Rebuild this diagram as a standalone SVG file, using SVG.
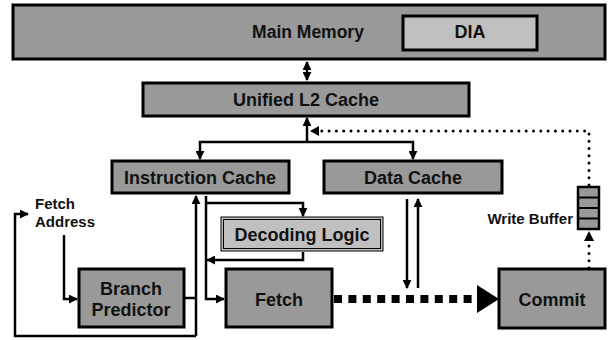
<svg xmlns="http://www.w3.org/2000/svg" width="615" height="340" viewBox="0 0 615 340">
<style>
.box{fill:#999999;stroke:#000;stroke-width:3}
.lbox{fill:#c0c0c0;stroke:#000;stroke-width:3}
.t{font-family:"Liberation Sans",Arial,Helvetica,sans-serif;font-weight:bold;font-size:18px;fill:#111;text-anchor:middle}
.s{font-family:"Liberation Sans",Arial,Helvetica,sans-serif;font-weight:bold;font-size:15px;fill:#111}
.ln{fill:none;stroke:#000;stroke-width:2.5}
.dot{fill:none;stroke:#000;stroke-width:3;stroke-linecap:round;stroke-dasharray:0 7.3}
</style>
<defs>
<marker id="ah" viewBox="0 0 10 10" refX="9" refY="5" markerWidth="9" markerHeight="9" markerUnits="userSpaceOnUse" orient="auto-start-reverse">
<path d="M0,0 L10,5 L0,10 z" fill="#000"/>
</marker>
</defs>
<rect width="615" height="340" fill="#fff"/>
<g id="main-memory">
<rect class="box" x="13" y="5" width="592" height="54"/>
<text class="t" x="308" y="38" style="font-size:17.5px">Main Memory</text>
</g>
<g id="dia">
<rect class="lbox" x="403" y="16" width="134" height="34"/>
<text class="t" x="470" y="38">DIA</text>
</g>
<g id="l2">
<rect class="box" x="143" y="83" width="326" height="33"/>
<text class="t" x="306" y="106">Unified L2 Cache</text>
</g>
<g id="icache">
<rect class="box" x="112" y="161" width="177" height="32"/>
<text class="t" x="200" y="184">Instruction Cache</text>
</g>
<g id="dcache">
<rect class="box" x="324" y="161" width="178" height="32"/>
<text class="t" x="413" y="184">Data Cache</text>
</g>
<g id="decoding">
<rect x="221" y="217" width="162" height="34" fill="#c0c0c0" stroke="#000" stroke-width="1"/>
<rect x="223.5" y="219.5" width="157" height="29" fill="#c0c0c0" stroke="#000" stroke-width="1"/>
<text class="t" x="302" y="241">Decoding Logic</text>
</g>
<g id="branch-predictor">
<rect class="box" x="79" y="269" width="105" height="58"/>
<text class="t" x="131" y="295">Branch</text>
<text class="t" x="131" y="316">Predictor</text>
</g>
<g id="fetch">
<rect class="box" x="226" y="269" width="106" height="58"/>
<text class="t" x="279" y="306">Fetch</text>
</g>
<g id="commit">
<rect class="box" x="499" y="269" width="106" height="59"/>
<text class="t" x="552" y="306">Commit</text>
</g>
<g id="write-buffer">
<rect x="578" y="187" width="21" height="42" fill="#999999" stroke="#000" stroke-width="2.5"/>
<path d="M578,197.5 H599 M578,208 H599 M578,218.5 H599" stroke="#000" stroke-width="2"/>
<text class="s" x="573" y="224" text-anchor="end">Write Buffer</text>
</g>
<g id="fetch-address">
<text class="s" x="35" y="209">Fetch</text>
<text class="s" x="35" y="227">Address</text>
</g>
<g id="connectors">
<path class="ln" d="M307,62 V80" marker-start="url(#ah)" marker-end="url(#ah)"/>
<path class="ln" d="M307,142 V118" marker-end="url(#ah)"/>
<path class="ln" d="M307,142 H200 V159" marker-end="url(#ah)"/>
<path class="ln" d="M307,142 H413 V159" marker-end="url(#ah)"/>
<path class="dot" d="M589,185 V131 H318"/>
<path d="M319,126 L310,131 L319,136 z" fill="#000"/>
<path class="dot" d="M589,268 V240"/>
<path d="M584,241 L589,231 L594,241 z" fill="#000"/>
<path class="ln" d="M196,336 V196" marker-end="url(#ah)"/>
<path class="ln" d="M196,336 H15 V214 H28" marker-end="url(#ah)"/>
<path class="ln" d="M184,298 H196"/>
<path class="ln" d="M64,235 V299 H77" marker-end="url(#ah)"/>
<path class="ln" d="M206,196 V299 H224" marker-end="url(#ah)"/>
<path class="ln" d="M206,203 H303 V216" marker-end="url(#ah)"/>
<path class="ln" d="M303,252 V260 H207" marker-end="url(#ah)"/>
<path class="ln" d="M407,199 V288" marker-end="url(#ah)"/>
<path class="ln" d="M418,288 V199" marker-end="url(#ah)"/>
<path d="M334,299 H476" fill="none" stroke="#000" stroke-width="8" stroke-dasharray="8 6.4"/>
<path d="M477,285 L499,299 L477,313 z" fill="#000"/>
</g>
</svg>
